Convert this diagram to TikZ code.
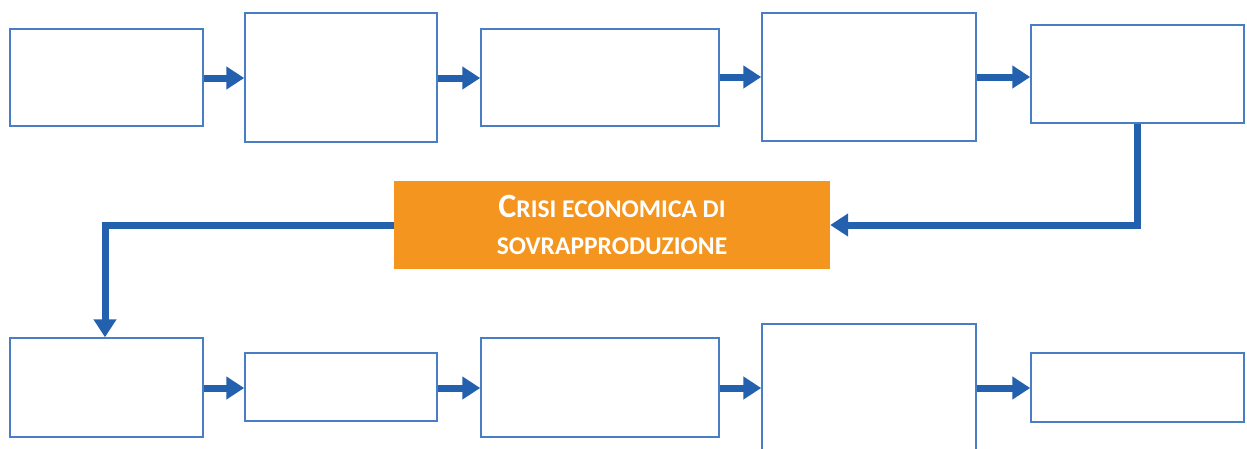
\documentclass[tikz,border=0pt]{standalone}
\usepackage{fontspec}
\setmainfont{Carlito}
\usetikzlibrary{arrows.meta}
\definecolor{boxblue}{HTML}{4A7EC4}
\definecolor{arrblue}{HTML}{2361AE}
\definecolor{crisis}{HTML}{F4951F}
\tikzset{
  emptybox/.style={draw=boxblue, line width=1.5pt, fill=white},
  flow/.style={draw=arrblue, line width=7pt, -{Triangle[length=18pt,width=22pt]}},
}
\newcommand{\bigC}{{\fontsize{34}{36}\selectfont C}}
\newcommand{\smc}[1]{{\fontsize{25.5}{28}\selectfont #1}}
\begin{document}
\begin{tikzpicture}[x=1pt,y=-1pt]
\useasboundingbox (0,0) rectangle (1247,448);
\clip (0,0) rectangle (1247,448);
% top row
\node[inner sep=0, minimum width=193pt, minimum height=97pt, emptybox] (a1) at (106.5,77.5) {};
\node[inner sep=0, minimum width=192pt, minimum height=129pt, emptybox] (a2) at (341,77.5) {};
\node[inner sep=0, minimum width=238pt, minimum height=97pt, emptybox] (a3) at (600,77.5) {};
\node[inner sep=0, minimum width=214pt, minimum height=128pt, emptybox] (a4) at (869,77) {};
\node[inner sep=0, minimum width=213pt, minimum height=98pt, emptybox] (a5) at (1137.5,74) {};
% bottom row
\node[inner sep=0, minimum width=193pt, minimum height=99pt, emptybox] (b1) at (106.5,387.5) {};
\node[inner sep=0, minimum width=192pt, minimum height=68pt, emptybox] (b2) at (341,387) {};
\node[inner sep=0, minimum width=238pt, minimum height=99pt, emptybox] (b3) at (600,387.5) {};
\node[inner sep=0, minimum width=214pt, minimum height=140pt, emptybox] (b4) at (869,394) {};
\node[inner sep=0, minimum width=213pt, minimum height=69pt, emptybox] (b5) at (1137.5,387.5) {};
% crisis node
\node[fill=crisis, inner sep=0, minimum width=436pt, minimum height=88pt, text=white, align=center, font=\bfseries, execute at begin node=\setlength{\baselineskip}{37pt}] (c) at (612,225)
  {\bigC\smc{RISI ECONOMICA DI}\\[0pt]\smc{SOVRAPPRODUZIONE}};
% top arrows
\draw[flow] (a1.east |- 0,78) -- (a2.west |- 0,78);
\draw[flow] (a2.east |- 0,78) -- (a3.west |- 0,78);
\draw[flow] (a3.east |- 0,77) -- (a4.west |- 0,77);
\draw[flow] (a4.east |- 0,77) -- (a5.west |- 0,77);
% bottom arrows
\draw[flow] (b1.east |- 0,388) -- (b2.west |- 0,388);
\draw[flow] (b2.east |- 0,388) -- (b3.west |- 0,388);
\draw[flow] (b3.east |- 0,388) -- (b4.west |- 0,388);
\draw[flow] (b4.east |- 0,388) -- (b5.west |- 0,388);
% connectors through crisis
\draw[flow, line join=miter] (a5.south) |- (c.east);
\draw[flow, line join=miter] (c.west) -| (b1.north -| 105,0);
\end{tikzpicture}
\end{document}
